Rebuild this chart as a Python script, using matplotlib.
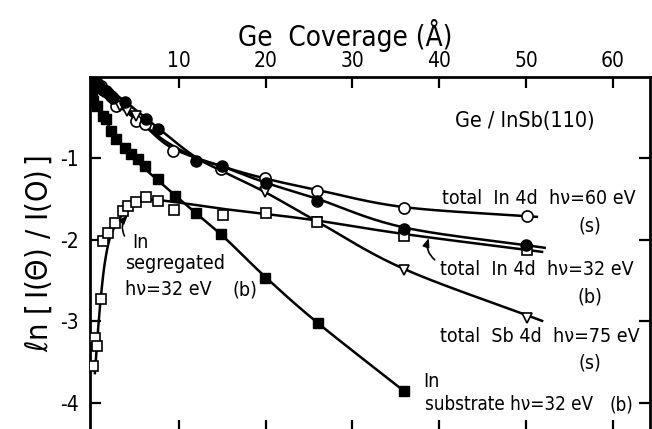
import numpy as np
import matplotlib
matplotlib.use("Agg")
import matplotlib.pyplot as plt

plt.rcParams['font.family'] = ['DejaVu Sans']
plt.rcParams['font.stretch'] = 'condensed'

# ---- data (Ge coverage in Angstrom, ln[I(Theta)/I(0)]) ----
in60_x = [0, 0.5, 1.0, 1.6, 2.2, 2.8, 5.1, 6.05, 9.3, 14.9, 19.9, 25.9, 36.0, 50.1]
in60_y = [0, -0.08, -0.12, -0.17, -0.24, -0.36, -0.54, -0.58, -0.91, -1.135, -1.24, -1.40, -1.615, -1.713]
in60_cx = [0, 2.8, 6.0, 9.3, 15.0, 20.0, 26.0, 36.0, 51.4]
in60_cy = [0, -0.33, -0.6, -0.88, -1.1, -1.25, -1.39, -1.6, -1.72]

in32_x = [0, 0.4, 0.8, 1.3, 1.8, 2.4, 3.75, 6.25, 7.6, 12.0, 15.0, 20.0, 25.9, 36.0, 50.0]
in32_y = [0, -0.06, -0.11, -0.16, -0.2, -0.26, -0.31, -0.52, -0.64, -1.03, -1.09, -1.30, -1.525, -1.865, -2.07]
in32_cx = [0, 3.75, 7.6, 12.0, 15.0, 20.0, 26.0, 36.0, 52.3]
in32_cy = [0, -0.3, -0.63, -0.99, -1.1, -1.3, -1.5, -1.85, -2.1]

sb75_x = [0.4, 1.3, 2.3, 3.25, 4.0, 5.0, 19.9, 25.9, 36.0, 50.1]
sb75_y = [-0.1, -0.19, -0.27, -0.36, -0.42, -0.48, -1.42, -1.78, -2.37, -2.96]
sb75_cx = [0, 4.0, 8.0, 12.0, 15.0, 20.0, 26.0, 36.0, 52.0]
sb75_cy = [0, -0.4, -0.76, -1.0, -1.16, -1.42, -1.78, -2.36, -3.0]

sub_x = [0, 0.1, 0.5, 1.25, 1.6, 2.2, 2.8, 3.75, 4.5, 5.3, 6.05, 7.6, 9.5, 12.0, 14.9, 19.9, 26.0, 36.0]
sub_y = [-0.17, -0.30, -0.36, -0.48, -0.52, -0.66, -0.77, -0.87, -0.95, -1.01, -1.09, -1.26, -1.46, -1.67, -1.93, -2.47, -3.02, -3.86]
sub_cx = [0, 1.2, 2.5, 5.0, 9.5, 15.0, 20.0, 26.0, 36.0]
sub_cy = [-0.17, -0.45, -0.7, -1.02, -1.45, -1.95, -2.46, -3.02, -3.86]

seg_x = [0.1, 0.3, 0.6, 1.0, 1.2, 1.8, 2.6, 3.5, 4.1, 5.1, 6.2, 7.6, 9.4, 15.1, 20.0, 25.9, 36.0, 50.1]
seg_y = [-3.55, -3.2, -3.3, -2.73, -2.02, -1.92, -1.79, -1.65, -1.58, -1.54, -1.47, -1.53, -1.64, -1.69, -1.67, -1.78, -1.95, -2.13]
seg_cx = [0.3, 0.6, 1.0, 1.5, 2.2, 3.5, 5.0, 6.5, 9.0, 15.0, 25.0, 36.0, 52.0]
seg_cy = [-3.65, -3.2, -2.7, -2.25, -1.93, -1.69, -1.56, -1.51, -1.53, -1.62, -1.75, -1.93, -2.15]

top_ticks = [10, 20, 30, 40, 50, 60]
y_ticks = [-1, -2, -3, -4]
y_ticklabels = ['-1', '-2', '-3', '-4']


def smooth(xs, ys, n=20):
    """Catmull-Rom spline through the curve knots (for drawing only)."""
    p = np.column_stack([xs, ys]).astype(float)
    p = np.vstack([2 * p[0] - p[1], p, 2 * p[-1] - p[-2]])
    out = []
    t = np.linspace(0, 1, n, endpoint=False)[:, None]
    for i in range(1, len(p) - 2):
        p0, p1, p2, p3 = p[i - 1], p[i], p[i + 1], p[i + 2]
        seg = 0.5 * ((2 * p1) + (-p0 + p2) * t + (2 * p0 - 5 * p1 + 4 * p2 - p3) * t ** 2
                     + (-p0 + 3 * p1 - 3 * p2 + p3) * t ** 3)
        out.append(seg)
    out.append(p[-2][None, :])
    out = np.vstack(out)
    return out[:, 0], out[:, 1]


W, H = 652, 429
fig = plt.figure(figsize=(W / 100, H / 100), dpi=100)
ax = fig.add_axes([89.6 / W, -2 / H, (650 - 89.6) / W, (431 - 76.7) / H])
ax.set_xlim(-0.3, 64.3)
ax.set_ylim(-4.345, 0)

lw = 1.8
for cx, cy in [(in60_cx, in60_cy), (in32_cx, in32_cy), (sb75_cx, sb75_cy),
               (sub_cx, sub_cy), (seg_cx, seg_cy)]:
    sx, sy = smooth(cx, cy)
    ax.plot(sx, sy, color='black', lw=lw, solid_capstyle='butt', zorder=2)

ms = 8
ax.plot(in60_x, in60_y, 'o', ms=ms, mfc='white', mec='black', mew=1.2, zorder=3)
ax.plot(in32_x, in32_y, 'o', ms=ms, mfc='black', mec='black', zorder=4)
ax.plot(sb75_x, sb75_y, 'v', ms=7.5, mfc='white', mec='black', mew=1.2, zorder=3)
ax.plot(sub_x, sub_y, 's', ms=7, mfc='black', mec='black', zorder=4)
ax.plot(seg_x, seg_y, 's', ms=7.5, mfc='white', mec='black', mew=1.2, zorder=3)

# axes styling
for s in ax.spines.values():
    s.set_linewidth(2.0)
ax.set_xticks(top_ticks)
ax.set_yticks(y_ticks)
ax.set_yticklabels(y_ticklabels)
ax.tick_params(axis='x', which='both', direction='in', top=True, bottom=True,
               labeltop=True, labelbottom=False, length=8, width=1.6, labelsize=15, pad=4)
ax.tick_params(axis='y', which='both', direction='in', left=True, right=True,
               labelleft=True, labelright=False, length=8, width=1.6, labelsize=15, pad=8)

fig.text(345 / W, 1 - 36 / H, 'Ge  Coverage (Å)', ha='center', va='center', fontsize=20)
ax.set_ylabel(r'$\ell\mathrm{n}\ \left[\,\mathrm{I}(\Theta)\ /\ \mathrm{I}(\mathrm{O})\,\right]$',
              fontsize=22, labelpad=4)

def px(xp, yp):
    return (xp - 92.5) / 8.67, -(yp - 77.7) / 81.3

fs = 14
ax.text(*px(455, 122), 'Ge / InSb(110)', fontsize=15.5, ha='left', va='center')
ax.text(*px(442, 199), 'total  In 4d  hν=60 eV', fontsize=fs, ha='left', va='center')
ax.text(*px(590, 227), '(s)', fontsize=fs, ha='center', va='center')
ax.text(*px(440, 270), 'total  In 4d  hν=32 eV', fontsize=fs, ha='left', va='center')
ax.text(*px(590, 297), '(b)', fontsize=fs, ha='center', va='center')
ax.text(*px(440, 337), 'total  Sb 4d  hν=75 eV', fontsize=fs, ha='left', va='center')
ax.text(*px(590, 363), '(s)', fontsize=fs, ha='center', va='center')
ax.text(*px(423, 382), 'In', fontsize=fs, ha='left', va='center')
ax.text(*px(425, 405), 'substrate hν=32 eV', fontsize=13.5, ha='left', va='center')
ax.text(*px(621, 405), '(b)', fontsize=13.5, ha='center', va='center')
ax.text(*px(133, 243), 'In', fontsize=fs, ha='left', va='center')
ax.text(*px(125, 264), 'segregated', fontsize=fs, ha='left', va='center')
ax.text(*px(125, 290), 'hν=32 eV', fontsize=fs, ha='left', va='center')
ax.text(*px(245, 290), '(b)', fontsize=fs, ha='center', va='center')

ax.annotate('', xy=px(430, 236), xytext=px(437, 262),
            arrowprops=dict(arrowstyle='-|>,head_length=0.5,head_width=0.2', lw=1.2,
                            color='black', connectionstyle='arc3,rad=-0.4'))
ax.annotate('', xy=px(130, 214), xytext=px(126, 239),
            arrowprops=dict(arrowstyle='-|>,head_length=0.5,head_width=0.2', lw=1.2,
                            color='black', connectionstyle='arc3,rad=-0.4'))

fig.savefig('out.png', dpi=100)
